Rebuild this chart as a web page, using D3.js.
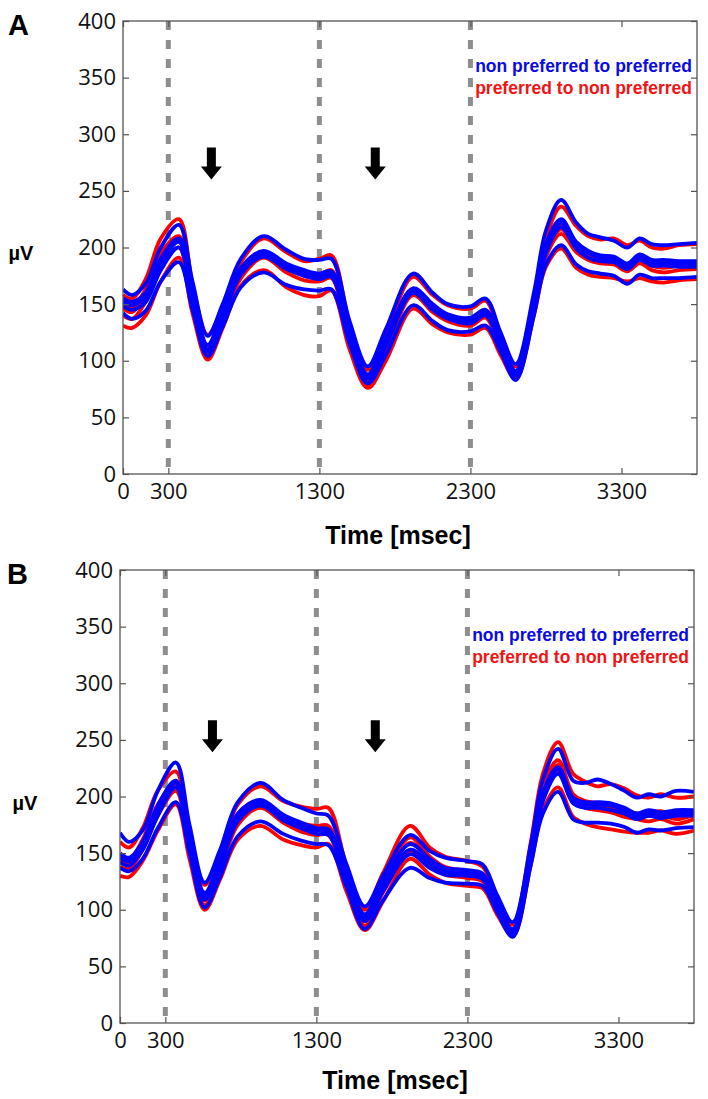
<!DOCTYPE html>
<html><head><meta charset="utf-8">
<script src="https://cdn.jsdelivr.net/npm/d3@7"></script>
<style>body{margin:0;background:#fff} svg{display:block}</style>
</head><body>
<svg id="c" width="708" height="1099"></svg>
<script>
// ---- data ----
const timesMs = [0,60,150,250,370,460,560,660,780,930,1080,1200,1300,1380,1500,1620,1740,1920,2050,2150,2300,2400,2500,2600,2720,2800,2900,3000,3080,3160,3250,3340,3420,3500,3580,3680,3800];

const aBlue1 = [163,158,168,200,220,170,122,150,190,210,198,190,189,190,135,95,128,177,160,150,148,155,125,97,160,215,242,222,212,209,206,200,208,203,202,203,204];
const aBlue2 = [155,152,160,190,208,160,114,144,182,197,186,180,177,179,128,88,120,164,150,141,138,145,118,91,152,203,225,205,197,193,192,186,194,189,189,188,188];
const aBlue3 = [152,149,157,186,205,158,110,141,180,195,184,178,175,177,125,86,117,162,148,139,136,143,116,89,150,200,222,203,195,191,190,184,192,187,187,186,186];
const aBlue4 = [148,145,152,180,200,154,108,137,176,192,181,175,172,174,122,84,113,160,145,137,133,140,114,87,147,195,218,199,191,188,187,181,189,184,184,183,183];
const aBlue5 = [142,137,144,170,187,145,104,130,165,178,167,163,162,163,115,80,105,149,135,127,126,131,108,83,140,185,202,185,179,177,175,168,176,173,173,173,174];

const aRed1 = [158,155,172,208,225,168,123,148,187,208,196,188,190,193,132,92,124,174,158,149,146,153,122,95,155,208,236,219,210,207,208,202,206,200,199,202,203];
const aRed2 = [150,147,163,195,210,158,112,142,180,196,185,177,176,180,124,85,116,163,149,140,136,143,116,90,149,198,219,202,195,192,191,185,192,186,184,186,186];
const aRed3 = [146,143,158,190,206,155,108,139,178,194,182,175,173,177,121,82,113,161,146,138,134,141,114,88,147,196,216,200,193,190,189,182,189,184,182,184,184];
const aRed4 = [140,137,152,182,200,150,105,135,173,191,178,171,170,173,117,79,109,158,143,135,131,138,111,86,145,192,212,196,189,186,185,179,186,180,178,180,181];
const aRed5 = [131,129,140,170,191,142,101,129,166,180,165,158,157,162,110,76,100,146,132,125,123,129,105,84,140,183,199,182,176,174,173,170,173,170,169,171,172];

const bBlue1 = [168,160,170,205,230,175,124,152,195,212,197,190,185,183,140,103,130,166,152,146,143,140,112,89,158,215,242,214,212,215,211,205,199,202,200,205,204];
const bBlue2 = [150,146,160,192,214,165,115,143,185,197,184,177,172,171,132,96,124,158,145,137,135,132,106,83,150,203,226,199,195,195,194,190,185,188,186,188,188];
const bBlue3 = [146,143,157,188,212,162,112,140,182,195,182,175,170,169,130,93,120,153,141,134,133,130,104,81,148,200,224,197,193,193,192,188,183,186,184,186,186];
const bBlue4 = [142,139,153,183,208,158,109,136,178,192,179,172,167,166,127,90,116,149,137,131,130,127,102,79,145,196,220,194,190,190,188,185,180,183,181,183,183];
const bBlue5 = [137,134,145,172,195,150,102,128,165,178,167,161,158,157,120,83,108,137,128,124,123,121,97,76,140,185,204,180,177,177,176,173,168,171,170,172,173];

const bRed1 = [160,155,172,205,222,170,122,150,193,209,196,191,189,190,138,100,132,174,155,147,143,138,110,87,160,220,248,220,213,209,211,207,201,199,202,199,200];
const bRed2 = [148,144,162,193,211,160,112,141,183,196,183,176,174,174,130,93,124,164,147,138,134,130,104,82,152,210,232,202,196,194,192,188,185,186,187,183,186];
const bRed3 = [143,140,158,189,209,157,108,137,180,194,181,173,171,171,127,90,120,159,143,135,131,128,102,80,150,205,228,199,194,192,190,186,183,183,184,180,184];
const bRed4 = [138,136,153,183,205,153,104,133,175,190,177,169,166,166,123,86,115,152,138,131,128,125,99,78,146,198,222,195,190,188,186,182,180,178,180,176,180];
const bRed5 = [130,129,143,170,193,145,100,126,162,174,162,157,155,158,116,82,107,145,131,124,121,119,95,77,140,188,208,182,176,173,171,169,168,168,170,167,170];

const yTicks = [0,50,100,150,200,250,300,350,400];
const xTicks = [0,300,1300,2300,3300];
const eventTimes = [300,1300,2300];
const arrowTimesA = [585,1670];
const arrowTipA = 260;
const arrowTimesB = [612,1690];
const arrowTipB = 239;
const legendLabels = ["non preferred to preferred","preferred to non preferred"];
const xLabel = "Time [msec]";
const yLabel = "\u00b5V";

// ---- drawing ----
const BLUE = "#0000ff", RED = "#ff0000";
const svg = d3.select("#c");

function panel(cfg){
  const x = d3.scaleLinear().domain([0,3800]).range([cfg.left,cfg.right]);
  const y = d3.scaleLinear().domain([0,400]).range([cfg.bottom,cfg.top]);
  const g = svg.append("g");
  const clipId = "clip"+cfg.letter;
  svg.append("clipPath").attr("id",clipId).append("rect")
    .attr("x",cfg.left).attr("y",cfg.top).attr("width",cfg.right-cfg.left).attr("height",cfg.bottom-cfg.top);

  // event dashed lines
  g.selectAll("line.ev").data(eventTimes).join("line").attr("class","ev")
    .attr("x1",d=>x(d)).attr("x2",d=>x(d)).attr("y1",y(400)).attr("y2",y(0))
    .attr("stroke","#8e8e8e").attr("stroke-width",5).attr("stroke-dasharray","9,10");

  const line = d3.line().x((d,i)=>x(timesMs[i])).y(d=>y(d)).curve(d3.curveCatmullRom.alpha(0.5));
  const cg = g.append("g").attr("clip-path","url(#"+clipId+")");
  cfg.red.forEach(s=>cg.append("path").attr("d",line(s)).attr("fill","none").attr("stroke",RED).attr("stroke-width",3.8).attr("stroke-linejoin","round"));
  cfg.blue.forEach(s=>cg.append("path").attr("d",line(s)).attr("fill","none").attr("stroke",BLUE).attr("stroke-width",3.8).attr("stroke-linejoin","round"));

  // arrows
  cfg.arrows.forEach(t=>{
    const cx = x(t), ty = y(cfg.arrowTip);
    const p = d3.path();
    p.moveTo(cx-4.5, ty-32); p.lineTo(cx+4.5, ty-32); p.lineTo(cx+4.5, ty-13);
    p.lineTo(cx+10.5, ty-13); p.lineTo(cx, ty); p.lineTo(cx-10.5, ty-13);
    p.lineTo(cx-4.5, ty-13); p.closePath();
    g.append("path").attr("d",p.toString()).attr("fill","#000");
  });

  // axes (box with inward ticks)
  const font = "'Open Sans', sans-serif";
  const fmt = d3.format("d");
  const ax = [
    g.append("g").attr("transform",`translate(${cfg.left},0)`).call(d3.axisLeft(y).tickValues(yTicks).tickFormat(fmt).tickSize(-6).tickPadding(7)),
    g.append("g").attr("transform",`translate(0,${cfg.bottom})`).call(d3.axisBottom(x).tickValues(xTicks).tickFormat(fmt).tickSize(-6).tickPadding(9)),
    g.append("g").attr("transform",`translate(${cfg.right},0)`).call(d3.axisRight(y).tickValues(yTicks).tickSize(-6).tickFormat("")),
    g.append("g").attr("transform",`translate(0,${cfg.top})`).call(d3.axisTop(x).tickValues(xTicks).tickSize(-6).tickFormat(""))
  ];
  ax.forEach(a=>{
    a.select(".domain").remove();
    a.selectAll("line").attr("stroke","#555").attr("stroke-width",1.2);
    a.selectAll("text").attr("font-family",font).attr("font-size",22).attr("fill","#111");
  });
  g.append("rect").attr("x",cfg.left).attr("y",cfg.top).attr("width",cfg.right-cfg.left).attr("height",cfg.bottom-cfg.top)
    .attr("fill","none").attr("stroke","#555").attr("stroke-width",1.3);

  // legend
  g.selectAll("text.leg").data(legendLabels).join("text").attr("class","leg")
    .attr("x",cfg.right-5).attr("y",(d,i)=>cfg.legendY[i]).attr("dy","0.35em")
    .attr("text-anchor","end").attr("font-family","'Liberation Sans', Arial, sans-serif")
    .attr("font-weight","bold").attr("font-size",17.5)
    .attr("fill",(d,i)=>i===0?"#0a0ae6":"#f01414").text(d=>d);

  // labels
  g.append("text").attr("x",cfg.letterX).attr("y",cfg.letterY).attr("font-family","'Liberation Sans', Arial, sans-serif")
    .attr("font-weight","bold").attr("font-size",29).text(cfg.letter);
  g.append("text").attr("x",cfg.muvX).attr("y",cfg.muvY).attr("text-anchor","middle").attr("font-family","'Liberation Sans', Arial, sans-serif")
    .attr("font-weight","bold").attr("font-size",20).text(yLabel);
  g.append("text").attr("x",(cfg.left+cfg.right)/2-12).attr("y",cfg.titleY).attr("dy","0.35em").attr("text-anchor","middle")
    .attr("font-family","'Liberation Sans Narrow', 'Liberation Sans', Arial, sans-serif")
    .attr("font-weight","bold").attr("font-size",25).text(xLabel);
}

panel({letter:"A", left:123, right:697, top:21, bottom:474, letterX:8, letterY:35, muvX:21, muvY:260, titleY:535,
  legendY:[66,88], arrows:arrowTimesA, arrowTip:arrowTipA,
  blue:[aBlue1,aBlue2,aBlue3,aBlue4,aBlue5], red:[aRed1,aRed2,aRed3,aRed4,aRed5]});
panel({letter:"B", left:120, right:694, top:570, bottom:1023, letterX:7, letterY:584, muvX:25, muvY:810, titleY:1080,
  legendY:[635,657], arrows:arrowTimesB, arrowTip:arrowTipB,
  blue:[bBlue1,bBlue2,bBlue3,bBlue4,bBlue5], red:[bRed1,bRed2,bRed3,bRed4,bRed5]});
</script>
</body></html>
